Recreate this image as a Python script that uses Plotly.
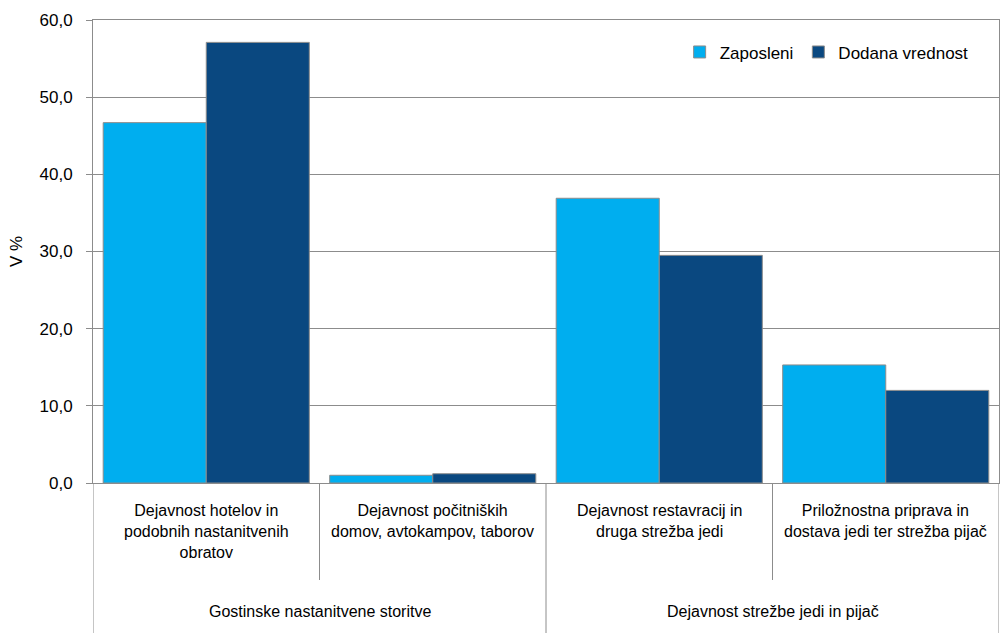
import plotly.graph_objects as go

# ---- data ----
subcategories = [
    "Dejavnost hotelov in<br>podobnih nastanitvenih<br>obratov",
    "Dejavnost počitniških<br>domov, avtokampov, taborov",
    "Dejavnost restavracij in<br>druga strežba jedi",
    "Priložnostna priprava in<br>dostava jedi ter strežba pijač",
]
groups = ["Gostinske nastanitvene storitve", "Dejavnost strežbe jedi in pijač"]
group_members = [[0, 1], [2, 3]]
zaposleni = [46.7, 1.0, 36.9, 15.3]
dodana_vrednost = [57.1, 1.2, 29.5, 12.0]
y_ticks = [0, 10, 20, 30, 40, 50, 60]

# ---- style ----
FONT = "Liberation Sans, Arial, sans-serif"
GRAY = "#8c8c8c"
LIGHT = "#00AEEF"
DARK = "#0A4880"

x = list(range(len(subcategories)))

fig = go.Figure()
fig.add_trace(go.Bar(name="Zaposleni", x=x, y=zaposleni,
                     marker=dict(color=LIGHT, line=dict(color=GRAY, width=1))))
fig.add_trace(go.Bar(name="Dodana vrednost", x=x, y=dodana_vrednost,
                     marker=dict(color=DARK, line=dict(color=GRAY, width=1))))

shapes = []
annotations = []
for i, lab in enumerate(subcategories):
    annotations.append(dict(x=i, xref="x", y=-0.036, yref="paper", text=lab,
                            showarrow=False, yanchor="top", xanchor="center",
                            font=dict(family=FONT, size=16, color="#000000")))
boundaries_long = [-0.5]
boundaries_short = []
for members in group_members:
    for m in members[:-1]:
        boundaries_short.append(m + 0.5)
    boundaries_long.append(members[-1] + 0.5)
for b in boundaries_long:
    shapes.append(dict(type="line", xref="x", yref="paper", x0=b, x1=b, y0=0, y1=-0.33,
                       line=dict(color=GRAY, width=1)))
for b in boundaries_short:
    shapes.append(dict(type="line", xref="x", yref="paper", x0=b, x1=b, y0=0, y1=-0.2095,
                       line=dict(color=GRAY, width=1)))
for g, members in zip(groups, group_members):
    cx = (members[0] + members[-1]) / 2
    annotations.append(dict(x=cx, xref="x", y=-0.2786, yref="paper", text=g,
                            showarrow=False, yanchor="middle", xanchor="center",
                            font=dict(family=FONT, size=16, color="#000000")))

fig.update_layout(
    width=1000, height=633,
    margin=dict(l=93, r=1, t=20, b=150, autoexpand=False),
    paper_bgcolor="white", plot_bgcolor="white",
    barmode="group", bargap=0.09, bargroupgap=0,
    separators=",.",
    font=dict(family=FONT, size=17, color="#000000"),
    showlegend=True,
    legend=dict(orientation="h", x=0.972, xanchor="right", y=0.93, yanchor="middle",
                font=dict(family=FONT, size=17, color="#000000"),
                bgcolor="rgba(0,0,0,0)", itemwidth=30, traceorder="normal"),
    xaxis=dict(range=[-0.5, 3.5], showticklabels=False, showgrid=False, zeroline=False,
               showline=True, linecolor=GRAY, linewidth=1, mirror=True, ticks=""),
    yaxis=dict(range=[0, 60], tickvals=y_ticks, tickformat=".1f",
               showgrid=True, gridcolor=GRAY, gridwidth=1, zeroline=False,
               showline=True, linecolor=GRAY, linewidth=1, mirror=True,
               ticks="outside", ticklen=6, tickcolor=GRAY, ticklabelstandoff=10,
               tickfont=dict(family=FONT, size=17, color="#000000"),
               title=dict(text="V %", standoff=12,
                          font=dict(family=FONT, size=17, color="#000000"))),
    shapes=shapes,
    annotations=annotations,
)

fig.write_html("out.html", config={"displayModeBar": False},
               post_script="document.body.style.margin='0';document.body.style.overflow='hidden';")
